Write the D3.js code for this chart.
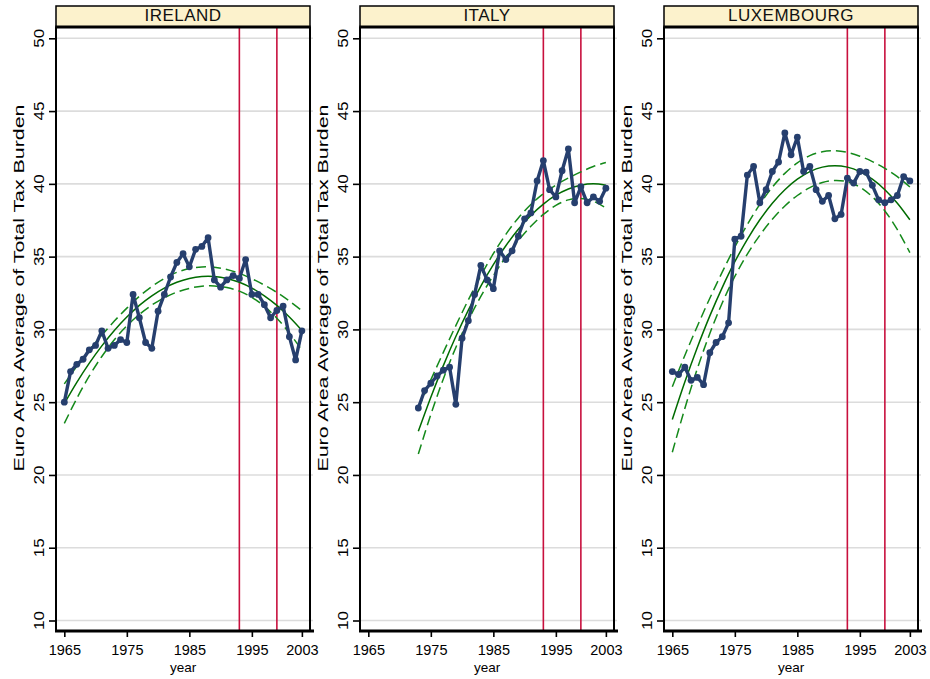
<!DOCTYPE html>
<html><head><meta charset="utf-8">
<script src="https://cdn.jsdelivr.net/npm/d3@7"></script>
<style>body{margin:0;background:#fff} svg{display:block}</style>
</head><body>
<svg id="c" width="930" height="679"></svg>
<script>
// ---------- data ----------
const countries = ["IRELAND", "ITALY", "LUXEMBOURG"];

const yearsIE = [1965,1966,1967,1968,1969,1970,1971,1972,1973,1974,1975,1976,1977,1978,1979,1980,1981,1982,1983,1984,1985,1986,1987,1988,1989,1990,1991,1992,1993,1994,1995,1996,1997,1998,1999,2000,2001,2002,2003];
const valuesIE = [25.0,27.1,27.6,27.95,28.6,28.9,29.9,28.7,28.9,29.3,29.1,32.4,30.8,29.1,28.7,31.25,32.4,33.6,34.6,35.2,34.3,35.5,35.7,36.3,33.4,32.9,33.4,33.7,33.5,34.8,32.4,32.4,31.7,30.8,31.3,31.6,29.5,27.9,29.9];

const yearsIT = [1973,1974,1975,1976,1977,1978,1979,1980,1981,1982,1983,1984,1985,1986,1987,1988,1989,1990,1991,1992,1993,1994,1995,1996,1997,1998,1999,2000,2001,2002,2003];
const valuesIT = [24.6,25.8,26.3,26.8,27.2,27.4,24.85,29.4,30.6,32.4,34.4,33.4,32.8,35.4,34.8,35.4,36.4,37.6,38.0,40.2,41.6,39.6,39.1,40.9,42.4,38.7,39.8,38.7,39.1,38.8,39.7];

const yearsLU = [1965,1966,1967,1968,1969,1970,1971,1972,1973,1974,1975,1976,1977,1978,1979,1980,1981,1982,1983,1984,1985,1986,1987,1988,1989,1990,1991,1992,1993,1994,1995,1996,1997,1998,1999,2000,2001,2002,2003];
const valuesLU = [27.1,26.9,27.4,26.5,26.7,26.2,28.4,29.1,29.5,30.45,36.2,36.4,40.6,41.2,38.7,39.6,40.85,41.5,43.5,42.0,43.2,40.85,41.2,39.6,38.8,39.2,37.6,37.9,40.4,40.05,40.85,40.8,39.9,38.9,38.7,38.9,39.2,40.5,40.2];

// fitted quadratic trend with confidence band
const fitYearsIE = [1965,1967,1969,1971,1973,1975,1977,1979,1981,1983,1985,1987,1989,1991,1993,1995,1997,1999,2001,2003];
const fitIE   = [24.90,26.36,27.68,28.87,29.93,30.85,31.65,32.31,32.84,33.24,33.50,33.63,33.63,33.50,33.24,32.84,32.31,31.65,30.85,29.93];
const fitHiIE = [26.26,27.46,28.57,29.60,30.57,31.46,32.27,32.95,33.50,33.92,34.18,34.29,34.27,34.12,33.85,33.48,33.04,32.54,31.95,31.29];
const fitLoIE = [23.54,25.26,26.80,28.14,29.29,30.24,31.03,31.67,32.18,32.56,32.82,32.97,32.99,32.88,32.63,32.20,31.58,30.77,29.75,28.57];

const fitYearsIT = [1973,1975,1977,1979,1981,1983,1985,1987,1989,1991,1993,1995,1997,1999,2001,2003];
const fitIT   = [23.00,25.34,27.51,29.51,31.33,32.98,34.45,35.75,36.88,37.83,38.61,39.22,39.65,39.91,40.00,39.91];
const fitHiIT = [24.56,26.53,28.42,30.26,32.03,33.69,35.20,36.53,37.66,38.58,39.32,39.92,40.40,40.82,41.19,41.47];
const fitLoIT = [21.44,24.15,26.60,28.76,30.63,32.27,33.70,34.97,36.10,37.08,37.90,38.52,38.90,39.00,38.81,38.35];

const fitYearsLU = [1965,1967,1969,1971,1973,1975,1977,1979,1981,1983,1985,1987,1989,1991,1993,1995,1997,1999,2001,2003];
const fitLU   = [23.81,26.39,28.76,30.93,32.89,34.65,36.19,37.53,38.67,39.60,40.32,40.84,41.15,41.25,41.15,40.84,40.32,39.60,38.67,37.53];
const fitHiLU = [26.06,28.21,30.22,32.14,33.95,35.66,37.21,38.59,39.77,40.72,41.44,41.94,42.21,42.27,42.16,41.90,41.53,41.06,40.49,39.78];
const fitLoLU = [21.56,24.57,27.30,29.72,31.83,33.64,35.17,36.47,37.57,38.48,39.20,39.74,40.09,40.23,40.14,39.78,39.11,38.14,36.85,35.28];

const yTicks = [10,15,20,25,30,35,40,45,50];
const xTicks = [1965,1975,1985,1995,2003];
const eventYears = [1993, 1999];
const yTitle = "Euro Area Average of Total Tax Burden";
const xTitle = "year";

// ---------- build ----------
const panels = [
  {name: countries[0], years: yearsIE, values: valuesIE, fy: fitYearsIE, fit: fitIE, hi: fitHiIE, lo: fitLoIE},
  {name: countries[1], years: yearsIT, values: valuesIT, fy: fitYearsIT, fit: fitIT, hi: fitHiIT, lo: fitLoIT},
  {name: countries[2], years: yearsLU, values: valuesLU, fy: fitYearsLU, fit: fitLU, hi: fitHiLU, lo: fitLoLU}
];

const svg = d3.select("#c");
const FONT = "'Liberation Sans', Arial, Helvetica, sans-serif";
const W = 254, TOP = 27, BOT = 631, HEADTOP = 6;
const C_BLUE = "#263f6e", C_RED = "#c8103e", C_DASH = "#14891a", C_FIT = "#006b00", C_GRID = "#dcdcdc";

const y = d3.scaleLinear().domain([10, 50]).range([620.5, 38.3]);

panels.forEach((p, i) => {
  const L = 56 + i * 304;
  const x = d3.scaleLinear().domain([1963.67, 2004.3]).range([L, L + W]);
  const g = svg.append("g");

  // gridlines
  g.selectAll(".grid").data(yTicks).join("line")
    .attr("x1", L).attr("x2", L + W + 3)
    .attr("y1", d => y(d)).attr("y2", d => y(d))
    .attr("stroke", C_GRID).attr("stroke-width", 1.6);

  // event lines
  g.selectAll(".ev").data(eventYears).join("line")
    .attr("x1", d => x(d)).attr("x2", d => x(d))
    .attr("y1", TOP).attr("y2", BOT)
    .attr("stroke", C_RED).attr("stroke-width", 1.6);

  const curve = d3.curveCatmullRom;
  const mk = arr => d3.line().x((d, k) => x(p.fy[k])).y(d => y(d)).curve(curve)(arr);

  g.append("path").attr("d", mk(p.hi)).attr("fill", "none")
    .attr("stroke", C_DASH).attr("stroke-width", 1.5).attr("stroke-dasharray", "10,5");
  g.append("path").attr("d", mk(p.lo)).attr("fill", "none")
    .attr("stroke", C_DASH).attr("stroke-width", 1.5).attr("stroke-dasharray", "10,5");
  g.append("path").attr("d", mk(p.fit)).attr("fill", "none")
    .attr("stroke", C_FIT).attr("stroke-width", 1.5);

  // data line + markers
  const line = d3.line().x((d, k) => x(p.years[k])).y(d => y(d));
  g.append("path").attr("d", line(p.values)).attr("fill", "none")
    .attr("stroke", C_BLUE).attr("stroke-width", 3.4).attr("stroke-linejoin", "round");
  g.selectAll(".pt").data(p.values).join("circle")
    .attr("cx", (d, k) => x(p.years[k])).attr("cy", d => y(d)).attr("r", 3.4)
    .attr("fill", C_BLUE);

  // header
  g.append("rect").attr("x", L).attr("y", HEADTOP).attr("width", W).attr("height", TOP - HEADTOP)
    .attr("fill", "#fcf2cc").attr("stroke", "#000").attr("stroke-width", 1.5);
  g.append("line").attr("x1", L - 0.75).attr("x2", L + W + 0.75).attr("y1", TOP).attr("y2", TOP)
    .attr("stroke", "#000").attr("stroke-width", 3);
  g.append("text").attr("x", L + W / 2).attr("y", 21).attr("text-anchor", "middle")
    .attr("font-family", FONT).attr("font-size", 17).attr("letter-spacing", 0.5)
    .attr("fill", "#111").text(p.name);

  // frame
  g.append("line").attr("x1", L).attr("x2", L).attr("y1", TOP).attr("y2", BOT)
    .attr("stroke", "#000").attr("stroke-width", 2);
  g.append("line").attr("x1", L + W).attr("x2", L + W).attr("y1", TOP).attr("y2", BOT)
    .attr("stroke", "#000").attr("stroke-width", 2);

  // y axis
  const ya = d3.axisLeft(y).tickValues(yTicks).tickSize(7).tickFormat(d3.format("d"));
  const yg = g.append("g").attr("transform", `translate(${L},0)`).call(ya);
  yg.select(".domain").remove();
  yg.selectAll(".tick line").attr("stroke", "#000").attr("stroke-width", 1.6);
  yg.selectAll(".tick text").remove();
  g.selectAll(".ytl").data(yTicks).join("text")
    .attr("transform", d => `translate(${L - 12},${y(d)}) rotate(-90) scale(1.1,1)`)
    .attr("text-anchor", "middle").attr("font-family", FONT).attr("font-size", 15.5)
    .attr("fill", "#000").text(d => d);
  g.append("text")
    .attr("transform", `translate(${L - 32},288) rotate(-90) scale(1.38,1)`)
    .attr("text-anchor", "middle").attr("font-family", FONT).attr("font-size", 15.5)
    .attr("fill", "#000").text(yTitle);

  // x axis
  const xa = d3.axisBottom(x).tickValues(xTicks).tickSize(6).tickFormat(d3.format("d"));
  const xg = g.append("g").attr("transform", `translate(0,${BOT})`).call(xa);
  xg.select(".domain").remove();
  xg.selectAll(".tick line").attr("stroke", "#000").attr("stroke-width", 1.6);
  xg.selectAll(".tick text").attr("font-family", FONT).attr("font-size", 14.5)
    .attr("fill", "#000").attr("y", 14);
  g.append("line").attr("x1", L - 1).attr("x2", L + W + 4).attr("y1", BOT).attr("y2", BOT)
    .attr("stroke", "#000").attr("stroke-width", 3.2);
  g.append("text").attr("x", x(1984)).attr("y", 672).attr("text-anchor", "middle")
    .attr("font-family", FONT).attr("font-size", 13.5).attr("fill", "#000").text(xTitle);
});
</script>
</body></html>
